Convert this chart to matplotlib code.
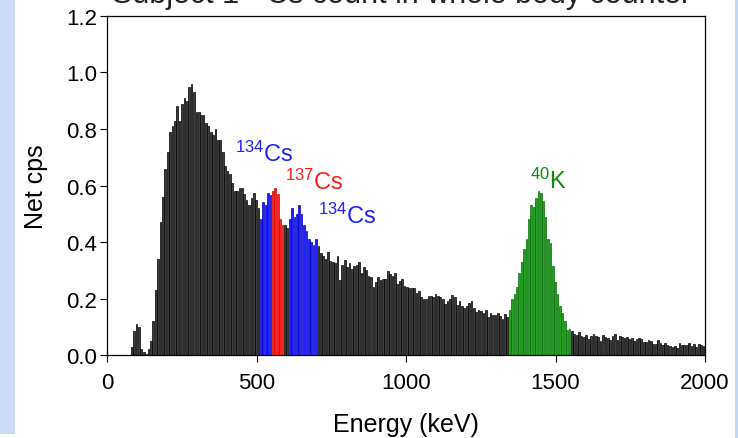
import numpy as np
import matplotlib
matplotlib.use('Agg')
import matplotlib.pyplot as plt
from matplotlib.patches import Rectangle

plt.rcParams['font.family'] = ['Liberation Sans', 'DejaVu Sans']
plt.rcParams['mathtext.fontset'] = 'custom'
plt.rcParams['mathtext.rm'] = 'Liberation Sans'
plt.rcParams['mathtext.default'] = 'regular'

# channel layout of the spectrum (keV)
bin_start = 80
bin_width = 8

# net count rate per channel, 80 keV per row
net_cps = [
    0.03, 0.085, 0.11, 0.10, 0.02, 0.01, 0.005, 0.02, 0.05, 0.12,
    0.23, 0.34, 0.47, 0.56, 0.66, 0.72, 0.79, 0.81, 0.83, 0.88,
    0.83, 0.89, 0.91, 0.90, 0.95, 0.96, 0.93, 0.86, 0.86, 0.85,
    0.85, 0.82, 0.81, 0.79, 0.78, 0.80, 0.76, 0.76, 0.72, 0.67,
    0.65, 0.64, 0.61, 0.58, 0.58, 0.59, 0.59, 0.57, 0.55, 0.53,
    0.555, 0.575, 0.55, 0.52, 0.48, 0.54, 0.53, 0.575, 0.565, 0.58,
    0.59, 0.57, 0.48, 0.46, 0.46, 0.45, 0.48, 0.52, 0.49, 0.50,
    0.53, 0.50, 0.46, 0.44, 0.41, 0.40, 0.39, 0.41, 0.385, 0.36,
    0.35, 0.34, 0.365, 0.334, 0.33, 0.325, 0.35, 0.265, 0.32, 0.335,
    0.31, 0.325, 0.305, 0.316, 0.32, 0.33, 0.29, 0.31, 0.30, 0.28,
    0.275, 0.24, 0.257, 0.275, 0.265, 0.27, 0.268, 0.298, 0.287, 0.28,
    0.29, 0.25, 0.263, 0.27, 0.245, 0.24, 0.236, 0.236, 0.236, 0.22,
    0.225, 0.205, 0.20, 0.198, 0.21, 0.21, 0.204, 0.215, 0.208, 0.205,
    0.20, 0.18, 0.192, 0.20, 0.214, 0.206, 0.178, 0.19, 0.172, 0.165,
    0.172, 0.185, 0.192, 0.165, 0.152, 0.16, 0.155, 0.15, 0.158, 0.135,
    0.15, 0.14, 0.14, 0.149, 0.138, 0.128, 0.145, 0.134, 0.16, 0.20,
    0.215, 0.24, 0.29, 0.33, 0.375, 0.41, 0.48, 0.53, 0.525, 0.555,
    0.58, 0.575, 0.545, 0.49, 0.41, 0.395, 0.316, 0.26, 0.215, 0.175,
    0.148, 0.122, 0.09, 0.093, 0.085, 0.076, 0.07, 0.082, 0.069, 0.065,
    0.07, 0.058, 0.068, 0.075, 0.068, 0.063, 0.05, 0.07, 0.063, 0.062,
    0.052, 0.068, 0.073, 0.052, 0.066, 0.065, 0.06, 0.064, 0.056, 0.059,
    0.048, 0.058, 0.06, 0.057, 0.045, 0.047, 0.052, 0.05, 0.04, 0.039,
    0.052, 0.042, 0.034, 0.044, 0.036, 0.031, 0.029, 0.031, 0.026, 0.042,
    0.035, 0.035, 0.034, 0.041, 0.032, 0.038, 0.028, 0.04, 0.036, 0.033,
]

# regions of interest: (low keV, high keV, fill, edge)
roi_low = [512, 552, 608, 1344]
roi_high = [552, 592, 704, 1552]
roi_fill = ['#2020ff', '#ff2020', '#2020ff', '#22a322']
roi_edge = ['#0000d0', '#d80000', '#0000d0', '#007000']

# peak labels
peak_labels = [r'$^{134}$Cs', r'$^{137}$Cs', r'$^{134}$Cs', r'$^{40}$K']
peak_x = [428, 595, 707, 1415]
peak_y = [0.715, 0.615, 0.495, 0.62]
peak_colors = ['#1f1fff', '#ff1a1a', '#1f1fff', '#108a10']

energy = bin_start + bin_width * np.arange(len(net_cps))
values = np.array(net_cps)

face = np.array(['#3c3c3c'] * len(values), dtype=object)
edge = np.array(['#000000'] * len(values), dtype=object)
for lo, hi, fc, ec in zip(roi_low, roi_high, roi_fill, roi_edge):
    sel = (energy >= lo) & (energy < hi)
    face[sel] = fc
    edge[sel] = ec

fig = plt.figure(figsize=(7.38, 4.39), dpi=100)

# slide background strips at the sides
fig.patches.append(Rectangle((0, 0.01), 0.02, 0.99, transform=fig.transFigure,
                             facecolor='#cddbfa', edgecolor='none', zorder=0))
fig.patches.append(Rectangle((0.996, 0), 0.004, 1, transform=fig.transFigure,
                             facecolor='#c9d6f0', edgecolor='none', zorder=0))

ax = fig.add_axes([0.145, 0.189, 0.8103, 0.7723])
ax.bar(energy, values, width=bin_width * 0.72, align='edge',
       color=list(face), edgecolor=list(edge), linewidth=0.5)

for lab, x, y, c in zip(peak_labels, peak_x, peak_y, peak_colors):
    ax.text(x, y, lab, color=c, fontsize=17, ha='left', va='center')

ax.set_xlim(0, 2000)
ax.set_ylim(0, 1.2)
ax.set_xticks([0, 500, 1000, 1500, 2000])
ax.set_yticks(np.arange(0, 1.21, 0.2))
ax.set_yticklabels(['%.1f' % t for t in np.arange(0, 1.21, 0.2)])
ax.tick_params(direction='out', length=5, width=0.8, labelsize=16,
               top=False, right=False)
ax.tick_params(axis='x', pad=7)
ax.tick_params(axis='y', pad=2)
for s in ax.spines.values():
    s.set_linewidth(0.9)

ax.set_xlabel('Energy (keV)', fontsize=18, labelpad=14)
ax.set_ylabel('Net cps', fontsize=18, labelpad=13)

# headline above the plot, mostly off the top edge
fig.text(112 / 738, 0.994, 'Subject 1 - Cs count in whole body counter',
         fontsize=22, ha='left', va='baseline', color='#222222')

fig.savefig('out.png', dpi=100)
